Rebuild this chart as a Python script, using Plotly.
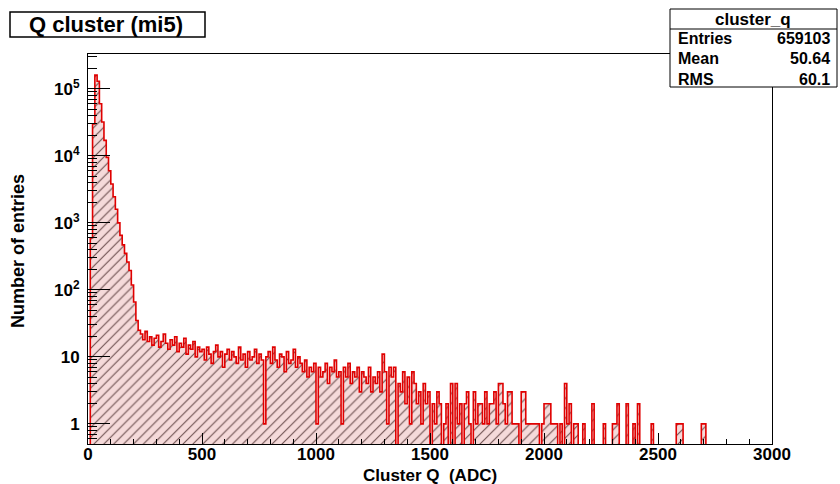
import numpy as np
import plotly.graph_objects as go

# ---------------- data ----------------
bin_width = 10
x_range = [0, 3000]

counts = [
    0, 600, 30000, 160000, 130000, 60000, 32000, 17000, 9500, 6000,          # 0-99
    3800, 2450, 1600, 1000, 650, 470, 350, 260, 195, 118,                    # 100-199
    66, 35, 25, 22, 18, 24, 17, 20, 15, 19,                                  # 200-299
    21, 14, 17, 22, 16, 13, 18, 15, 20, 12,                                  # 300-399
    16, 14, 19, 11, 15, 13, 17, 10, 14, 12,                                  # 400-499
    13, 9, 14, 11, 8, 12, 15, 10, 12, 7,                                     # 500-599
    11, 13, 9, 12, 10, 8, 14, 9, 11, 7,                                      # 600-699
    12, 9, 10, 13, 8, 11, 9, 1, 10, 12,                                      # 700-799
    8, 14, 9, 7, 11, 10, 6, 12, 8, 9,                                        # 800-899
    13, 7, 10, 8, 6, 9, 5, 7, 6, 8,                                          # 900-999
    1, 7, 5, 6, 8, 4, 7, 6, 9, 5,                                            # 1000-1099
    6, 1, 7, 5, 8, 4, 6, 5, 7, 3,                                            # 1100-1199
    6, 5, 4, 7, 3, 5, 4, 6, 3, 11,                                           # 1200-1299
    6, 1, 7, 5, 7, 0, 4, 3, 6, 2,                                            # 1300-1399
    5, 1, 6, 4, 2, 3, 1, 4, 2, 3,                                            # 1400-1499
    0, 2, 1, 3, 2, 0, 1, 2, 0, 4,                                            # 1500-1599
    0, 4, 1, 2, 0, 2, 3, 1, 0, 3,                                            # 1600-1699
    1, 2, 2, 1, 3, 1, 2, 2, 3, 1,                                            # 1700-1799
    4, 4, 2, 1, 3, 3, 1, 1, 1, 0,                                            # 1800-1899
    3, 3, 1, 1, 1, 1, 1, 1, 0, 1,                                            # 1900-1999
    2, 2, 2, 1, 1, 1, 0, 1, 0, 4,                                            # 2000-2099
    1, 2, 0, 1, 1, 0, 0, 1, 0, 0,                                            # 2100-2199
    0, 2, 0, 0, 0, 0, 1, 0, 0, 0,                                            # 2200-2299
    1, 1, 2, 0, 0, 0, 2, 0, 0, 1,                                            # 2300-2399
    0, 2, 0, 0, 0, 0, 0, 1, 0, 0,                                            # 2400-2499
    0, 0, 0, 0, 0, 0, 0, 0, 1, 1,                                            # 2500-2599
    1, 0, 0, 0, 0, 0, 0, 0, 0, 1,                                            # 2600-2699
    1, 0, 0, 0, 0, 0, 0, 0, 0, 0,                                            # 2700-2799
    0, 0, 0, 0, 0, 0, 0, 0, 0, 0,                                            # 2800-2899
    0, 0, 0, 0, 0, 0, 0, 0, 0, 0,                                            # 2900-2999
]

x_tick_vals = [0, 500, 1000, 1500, 2000, 2500, 3000]
x_tick_text = ["0", "500", "1000", "1500", "2000", "2500", "3000"]
y_tick_vals = [1, 10, 100, 1000, 10000, 100000]
y_tick_text = ["1", "10", "10<sup>2</sup>", "10<sup>3</sup>", "10<sup>4</sup>", "10<sup>5</sup>"]

title_text = "Q cluster (mi5)"
stats_name = "cluster_q"
stats_labels = ["Entries", "Mean", "RMS"]
stats_values = ["659103", "50.64", "60.1"]
x_title = "Cluster Q\u00a0\u00a0(ADC)"
y_title = "Number of entries"

# ---------------- geometry helpers ----------------
W, H = 840, 484
L, R, T, B = 88, 68, 54, 40
PW, PH = W - L - R, H - T - B


def px(xp):
    return (xp - L) / PW


def py(yp):
    return (H - B - yp) / PH


FONT = "Liberation Sans, Arial, Helvetica, sans-serif"

counts_arr = np.array(counts, dtype=float)
edges = np.arange(x_range[0], x_range[1] + bin_width, bin_width)
centers = edges[:-1] + bin_width / 2
bar_y = np.where(counts_arr > 0, counts_arr, np.nan)
line_y = np.where(counts_arr > 0, counts_arr, 0.05)
line_y = np.append(line_y, line_y[-1])

fig = go.Figure()
fig.add_trace(go.Bar(
    x=centers, y=bar_y, width=bin_width,
    marker=dict(
        color="#f5dada",
        line=dict(width=0),
        pattern=dict(shape="/", fgcolor="#6e5050", bgcolor="#f5dada",
                     size=7, solidity=0.16, fillmode="replace"),
    ),
    hoverinfo="skip", showlegend=False,
))
fig.add_trace(go.Scatter(
    x=edges, y=line_y, mode="lines",
    line=dict(color="#e00000", width=1.6, shape="hv"),
    hoverinfo="skip", showlegend=False,
))

tickfont = dict(family=FONT, size=17, color="black", weight="bold")

minor_y = [k * 10 ** d for d in range(-1, 6) for k in range(2, 10)]
minor_y = [v for v in minor_y if 10 ** -0.3 <= v <= 10 ** 5.52]

fig.update_layout(
    width=W, height=H,
    margin=dict(l=L, r=R, t=T, b=B, pad=0),
    paper_bgcolor="white", plot_bgcolor="white",
    bargap=0,
    xaxis=dict(
        range=x_range, showgrid=False, zeroline=False,
        showline=True, linecolor="black", linewidth=1, mirror=True,
        ticks="inside", ticklen=11, tickcolor="black",
        tickvals=x_tick_vals, ticktext=x_tick_text, tickfont=tickfont,
        minor=dict(ticks="inside", ticklen=5, dtick=100, tickcolor="black", showgrid=False),
        ticklabelstandoff=-5,
    ),
    yaxis=dict(
        type="log", range=[-0.3, 5.52], showgrid=False, zeroline=False,
        showline=True, linecolor="black", linewidth=1, mirror=True,
        ticks="inside", ticklen=22, tickcolor="black",
        tickvals=y_tick_vals, ticktext=y_tick_text, tickfont=tickfont,
        minor=dict(ticks="inside", ticklen=9, tickvals=minor_y, tickcolor="black", showgrid=False),
        ticklabelstandoff=4,
    ),
)

shapes = []
annotations = []

# title box
shapes.append(dict(type="rect", xref="paper", yref="paper",
                   x0=px(10), x1=px(205), y0=py(37), y1=py(12),
                   line=dict(color="black", width=1.5), fillcolor="white", layer="above"))
annotations.append(dict(xref="paper", yref="paper", x=px(106), y=py(24.5),
                        text=title_text, showarrow=False, xanchor="center", yanchor="middle",
                        font=dict(family=FONT, size=22, color="black", weight="bold")))

# stats box
shapes.append(dict(type="rect", xref="paper", yref="paper",
                   x0=px(670), x1=px(837), y0=py(87), y1=py(9),
                   line=dict(color="black", width=1), fillcolor="white", layer="above"))
shapes.append(dict(type="line", xref="paper", yref="paper",
                   x0=px(670), x1=px(837), y0=py(29), y1=py(29),
                   line=dict(color="black", width=1), layer="above"))
annotations.append(dict(xref="paper", yref="paper", x=px(753), y=py(19),
                        text=stats_name, showarrow=False, xanchor="center", yanchor="middle",
                        font=dict(family=FONT, size=17, color="black", weight="bold")))
for i, (lab, val) in enumerate(zip(stats_labels, stats_values)):
    yy = py(39 + i * 20)
    annotations.append(dict(xref="paper", yref="paper", x=px(676), y=yy, text=lab,
                            showarrow=False, xanchor="left", yanchor="middle",
                            font=dict(family=FONT, size=16, color="black", weight="bold")))
    annotations.append(dict(xref="paper", yref="paper", x=px(832), y=yy, text=val,
                            showarrow=False, xanchor="right", yanchor="middle",
                            font=dict(family=FONT, size=16, color="black", weight="bold")))

# axis titles
annotations.append(dict(xref="paper", yref="paper", x=px(430), y=py(475.5), text=x_title,
                        showarrow=False, xanchor="center", yanchor="middle",
                        font=dict(family=FONT, size=17, color="black", weight="bold")))
annotations.append(dict(xref="paper", yref="paper", x=px(18), y=py(251), text=y_title,
                        showarrow=False, xanchor="center", yanchor="middle", textangle=-90,
                        font=dict(family=FONT, size=18, color="black", weight="bold")))

fig.update_layout(shapes=shapes, annotations=annotations)
fig.write_html("out.html")
